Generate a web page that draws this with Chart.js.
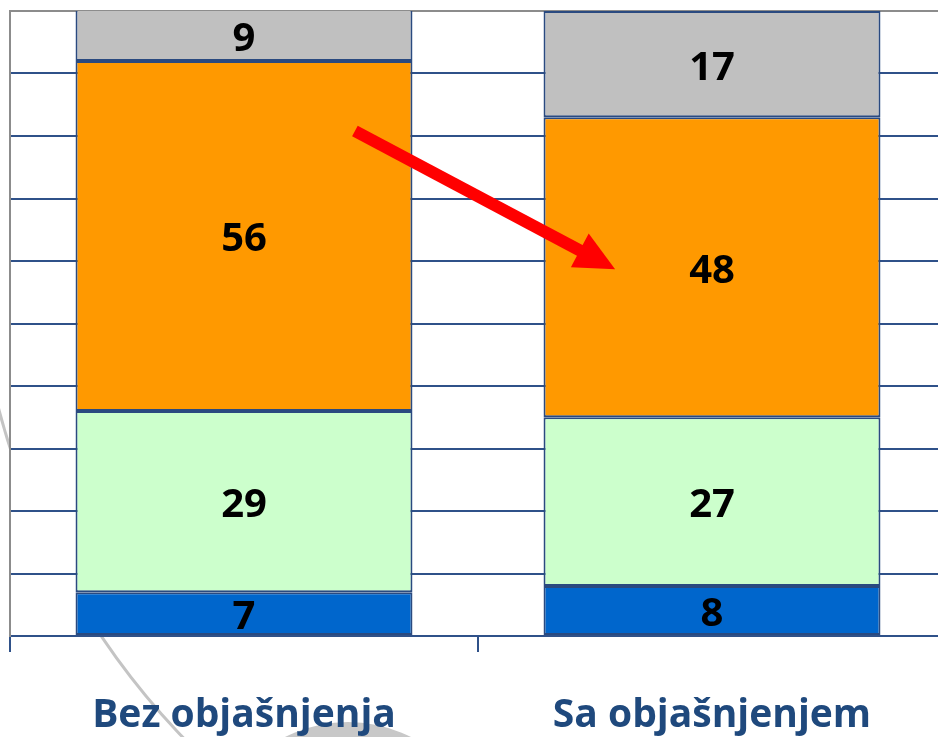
<!DOCTYPE html>
<html>
<head>
<meta charset="utf-8">
<script src="https://cdn.jsdelivr.net/npm/chart.js@4.4.1/dist/chart.umd.min.js"></script>
<style>
html,body{margin:0;padding:0;background:#fff;overflow:hidden;width:938px;height:737px;}
#wrap{position:absolute;left:0;top:0;width:956px;height:737px;}
</style>
</head>
<body>
<div id="wrap"><canvas id="c" width="956" height="737"></canvas></div>
<script>
// ---- data ----
const categories = ["Bez objašnjenja", "Sa objašnjenjem"];
const blueValues = [7, 8];
const greenValues = [29, 27];
const orangeValues = [56, 48];
const grayValues = [9, 17];
const yTicksMin = 0;
const yTicksMax = 100;
const yTickStep = 10;
// arrow annotation: from category 0 to category 1 (value units on y axis)
const arrowFrom = { cat: 0, dx: 0.237, value: 80.8 };
const arrowTo = { cat: 1, dx: -0.207, value: 58.7 };

const GRID = '#2F5189';
const BORDER = '#2A4A80';

const decoPlugin = {
  id: 'deco',
  beforeDraw(chart) {
    const ctx = chart.ctx, a = chart.chartArea;
    ctx.save();
    // decorative background ring
    ctx.strokeStyle = '#C4C4C4';
    ctx.lineWidth = 3;
    ctx.beginPath();
    ctx.arc(724, 218, 750, Math.PI * 0.60, Math.PI * 0.92);
    ctx.stroke();
    // decorative grey disc at bottom
    ctx.fillStyle = '#C8C8C8';
    ctx.beginPath();
    ctx.arc(348, 862, 140, 0, Math.PI * 2);
    ctx.fill();
    // white plot area
    ctx.fillStyle = '#ffffff';
    ctx.fillRect(a.left, a.top, a.right - a.left, a.bottom - a.top);
    ctx.restore();
  }
};

const labelPlugin = {
  id: 'segLabels',
  afterDatasetsDraw(chart) {
    const ctx = chart.ctx, a = chart.chartArea;
    ctx.save();
    ctx.font = 'bold 40px "Open Sans"';
    ctx.fillStyle = '#000';
    ctx.textAlign = 'center';
    ctx.textBaseline = 'middle';
    chart.data.datasets.forEach((ds, i) => {
      const meta = chart.getDatasetMeta(i);
      meta.data.forEach((el, j) => {
        const top = Math.max(Math.min(el.y, el.base), a.top);
        const bot = Math.min(Math.max(el.y, el.base), a.bottom);
        ctx.fillText(String(ds.data[j]), el.x, (top + bot) / 2 + 4);
      });
    });
    ctx.restore();
  }
};

const arrowPlugin = {
  id: 'arrow',
  afterDatasetsDraw(chart) {
    const ctx = chart.ctx, xs = chart.scales.x, ys = chart.scales.y;
    const cw = xs.getPixelForValue(1) - xs.getPixelForValue(0);
    const x1 = xs.getPixelForValue(arrowFrom.cat) + arrowFrom.dx * cw;
    const y1 = ys.getPixelForValue(arrowFrom.value);
    const x2 = xs.getPixelForValue(arrowTo.cat) + arrowTo.dx * cw;
    const y2 = ys.getPixelForValue(arrowTo.value);
    const ang = Math.atan2(y2 - y1, x2 - x1);
    const headLen = 40, headW = 38, shaft = 12;
    const L = Math.hypot(x2 - x1, y2 - y1);
    ctx.save();
    ctx.translate(x1, y1);
    ctx.rotate(ang);
    ctx.fillStyle = '#FF0000';
    ctx.fillRect(0, -shaft / 2, L - headLen + 1, shaft);
    ctx.beginPath();
    ctx.moveTo(L, 0);
    ctx.lineTo(L - headLen, -headW / 2);
    ctx.lineTo(L - headLen, headW / 2);
    ctx.closePath();
    ctx.fill();
    ctx.restore();
  }
};

const common = { borderColor: BORDER, borderWidth: 2, borderSkipped: false, categoryPercentage: 1, barPercentage: 0.72 };

new Chart(document.getElementById('c'), {
  type: 'bar',
  data: {
    labels: categories,
    datasets: [
      { label: 'a', data: blueValues, backgroundColor: '#0066CC', ...common },
      { label: 'b', data: greenValues, backgroundColor: '#CCFFCC', ...common },
      { label: 'c', data: orangeValues, backgroundColor: '#FF9900', ...common },
      { label: 'd', data: grayValues, backgroundColor: '#C0C0C0', ...common }
    ]
  },
  options: {
    responsive: false,
    animation: false,
    layout: { padding: { left: 10, top: 11, right: 10, bottom: 0 } },
    plugins: { legend: { display: false }, tooltip: { enabled: false } },
    scales: {
      x: {
        stacked: true,
        grid: { offset: true, drawOnChartArea: false, drawTicks: true, tickLength: 16, color: GRID, lineWidth: 2 },
        border: { display: true, color: GRID, width: 2 },
        ticks: { color: '#1F497D', font: { family: '"Open Sans"', size: 39, weight: 'bold' }, padding: 40, maxRotation: 0 },
        afterFit(s) { s.height = 101; }
      },
      y: {
        stacked: true,
        min: yTicksMin, max: yTicksMax,
        ticks: { display: false, stepSize: yTickStep },
        grid: { drawTicks: false, lineWidth: 2, color: (c) => (c.tick && c.tick.value === yTicksMax) ? '#8C8C8C' : GRID },
        border: { display: true, color: '#8C8C8C', width: 2 },
        afterFit(s) { s.width = 0; }
      }
    }
  },
  plugins: [decoPlugin, labelPlugin, arrowPlugin]
});
</script>
</body>
</html>
